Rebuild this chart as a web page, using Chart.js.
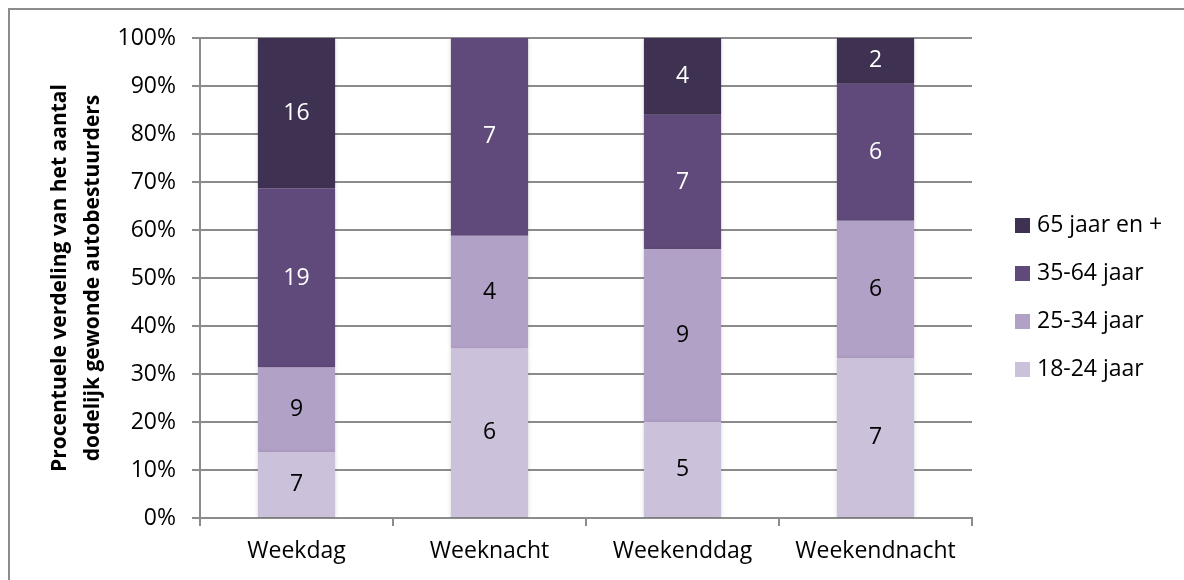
<!DOCTYPE html>
<html>
<head>
<meta charset="utf-8">
<script src="https://cdn.jsdelivr.net/npm/chart.js@4/dist/chart.umd.min.js"></script>
<style>
  html, body { margin: 0; padding: 0; background: #fff; }
  #wrap { width: 1184px; height: 580px; }
</style>
</head>
<body>
<div id="wrap"><canvas id="ageChart" width="1184" height="580"></canvas></div>
<script>
// categories and counts (number of drivers per age group)
const periods = ["Weekdag", "Weeknacht", "Weekenddag", "Weekendnacht"];
const ageGroups = ["18-24 jaar", "25-34 jaar", "35-64 jaar", "65 jaar en +"];
const count18to24 = [7, 6, 5, 7];
const count25to34 = [9, 4, 9, 6];
const count35to64 = [19, 7, 7, 6];
const count65plus = [16, 0, 4, 2];
const groupColors = ["#ccc1da", "#b2a1c7", "#604a7b", "#3f3151"];
const labelColors = ["#000000", "#000000", "#ffffff", "#ffffff"];
const yTicks = [0, 10, 20, 30, 40, 50, 60, 70, 80, 90, 100];

const FONT = "'Open Sans', 'Noto Sans', sans-serif";
const allCounts = [count18to24, count25to34, count35to64, count65plus];
var totals = periods.map((p, i) => allCounts.reduce((s, arr) => s + arr[i], 0));

var datasets = allCounts.map((arr, k) => ({
  label: ageGroups[k],
  data: arr.map((v, i) => v / totals[i] * 100),
  counts: arr,
  backgroundColor: groupColors[k],
  borderWidth: 0,
  categoryPercentage: 1,
  barPercentage: 0.4,
}));

// outer frame + soft bar shadow
const framePlugin = {
  id: "frame",
  beforeDraw(chart) {
    const c = chart.ctx;
    c.save();
    c.fillStyle = "#fff";
    c.fillRect(0, 0, chart.width, chart.height);
    c.strokeStyle = "#8c8c8c";
    c.lineWidth = 2;
    c.strokeRect(9, 9, chart.width + 20, chart.height + 20);
    c.restore();
  },
  beforeDatasetsDraw(chart) {
    const c = chart.ctx;
    c.save();
    c.shadowColor = "rgba(0,0,0,0.18)";
    c.shadowBlur = 5;
    c.shadowOffsetY = 1;
  },
  afterDatasetsDraw(chart) {
    chart.ctx.restore();
  },
};

// numbers inside the bar segments
const countLabels = {
  id: "countLabels",
  afterDatasetsDraw(chart) {
    const c = chart.ctx;
    c.save();
    c.font = "23px " + FONT;
    c.textAlign = "center";
    c.textBaseline = "middle";
    chart.data.datasets.forEach((ds, k) => {
      const meta = chart.getDatasetMeta(k);
      meta.data.forEach((bar, i) => {
        if (!ds.counts[i]) return;
        c.fillStyle = labelColors[k];
        c.fillText(String(ds.counts[i]), bar.x, (bar.y + bar.base) / 2);
      });
    });
    c.restore();
  },
};

// legend on the right, top group first
const sideLegend = {
  id: "sideLegend",
  afterDraw(chart) {
    const c = chart.ctx;
    c.save();
    c.font = "23px " + FONT;
    c.textBaseline = "middle";
    c.textAlign = "left";
    const n = chart.data.datasets.length;
    for (let j = 0; j < n; j++) {
      const ds = chart.data.datasets[n - 1 - j];
      const y = 225 + j * 48;
      c.fillStyle = ds.backgroundColor;
      c.fillRect(1015, y - 7, 15, 15);
      c.fillStyle = "#000";
      c.fillText(ds.label, 1037, y);
    }
    c.restore();
  },
};

var ctx = document.getElementById("ageChart").getContext("2d");
var chart = new Chart(ctx, {
  type: "bar",
  data: { labels: periods, datasets: datasets },
  options: {
    responsive: false,
    animation: false,
    devicePixelRatio: 1,
    layout: { padding: { left: 43, right: 212, top: 38, bottom: 6 } },
    plugins: {
      legend: { display: false },
      tooltip: { enabled: false },
    },
    scales: {
      x: {
        stacked: true,
        grid: {
          drawOnChartArea: false,
          drawTicks: true,
          tickLength: 8,
          offset: true,
          color: "#8c8c8c",
          lineWidth: 2,
        },
        border: { color: "#8c8c8c", width: 2 },
        ticks: { color: "#000", font: { family: FONT, size: 23 }, padding: 12 },
        afterFit: (scale) => {
          scale.height = 56;
        },
      },
      y: {
        stacked: true,
        min: 0,
        max: 100,
        afterBuildTicks: (scale) => {
          scale.ticks = yTicks.map((v) => ({ value: v }));
        },
        afterFit: (scale) => {
          scale.width = 157;
        },
        grid: { color: "#8c8c8c", lineWidth: 2, tickLength: 8 },
        border: { color: "#8c8c8c", width: 2 },
        ticks: {
          color: "#000",
          font: { family: FONT, size: 23 },
          padding: 16,
          callback: (v) => v + "%",
        },
        title: {
          display: true,
          text: ["Procentuele verdeling van het aantal", "dodelijk gewonde autobestuurders"],
          color: "#000",
          font: { family: FONT, size: 21, weight: "bold", lineHeight: 1.6 },
          padding: { top: 0, bottom: 0 },
        },
      },
    },
  },
  plugins: [framePlugin, countLabels, sideLegend],
});
</script>
</body>
</html>
